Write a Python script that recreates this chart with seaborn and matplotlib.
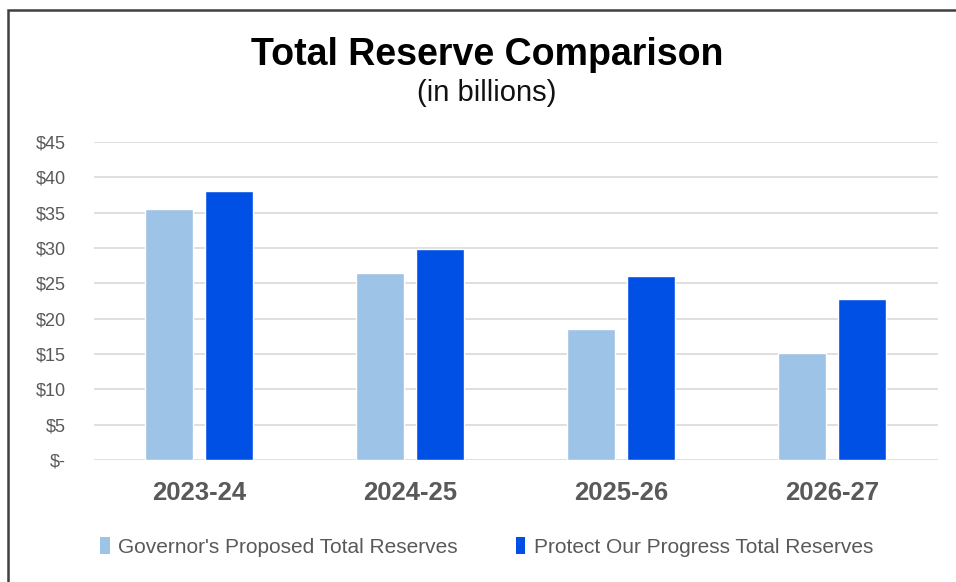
import matplotlib
matplotlib.use("Agg")
import matplotlib.pyplot as plt
import seaborn as sns
import pandas as pd
from matplotlib.patches import Patch, Rectangle
from matplotlib.ticker import FuncFormatter

years = ["2023-24", "2024-25", "2025-26", "2026-27"]
governor = [35.5, 26.4, 18.5, 15.1]
protect = [38.0, 29.8, 26.1, 22.8]
series_names = ["Governor's Proposed Total Reserves", "Protect Our Progress Total Reserves"]
colors = ["#9DC3E6", "#0050E6"]
yticks = [0, 5, 10, 15, 20, 25, 30, 35, 40, 45]

df = pd.DataFrame({
    "year": years * 2,
    "value": governor + protect,
    "series": [series_names[0]] * len(years) + [series_names[1]] * len(years),
})

sns.set_theme(style="white")
plt.rcParams["font.family"] = ["Liberation Sans", "DejaVu Sans"]

fig = plt.figure(figsize=(9.56, 5.82), dpi=100)
ax = fig.add_axes([93.5 / 956, 1 - 460 / 582, (937.5 - 93.5) / 956, (460 - 142) / 582])

sns.barplot(data=df, x="year", y="value", hue="series", palette=colors,
            width=0.57, gap=0.2, ax=ax, legend=False, saturation=1)

ax.set_ylim(0, 45)
ax.set_yticks(yticks)
ax.yaxis.set_major_formatter(FuncFormatter(lambda v, p: "$-" if v == 0 else f"${int(v)}"))
ax.grid(axis="y", color="#D9D9D9", linewidth=1.2)
ax.set_axisbelow(True)
for s in ax.spines.values():
    s.set_visible(False)
ax.set_xlabel("")
ax.set_ylabel("")
ax.tick_params(axis="y", length=0, pad=20, labelsize=13, labelcolor="#595959")
ax.tick_params(axis="x", length=0, pad=15, labelsize=18.5, labelcolor="#595959")
for lab in ax.get_yticklabels():
    lab.set_horizontalalignment("right")
for lab in ax.get_xticklabels():
    lab.set_fontweight("bold")

fig.text(0.51, 1 - 65 / 582, "Total Reserve Comparison", ha="center", va="baseline",
         fontsize=27, fontweight="bold", color="black")
fig.text(0.509, 1 - 101 / 582, "(in billions)", ha="center", va="baseline",
         fontsize=21, color="#111111")

handles = [Patch(facecolor=c, edgecolor="none") for c in colors]
fig.legend(handles, series_names, loc="center", bbox_to_anchor=(0.509, 1 - 547 / 582),
           ncol=2, frameon=False, fontsize=15, handlelength=0.45, handleheight=0.9,
           handletextpad=0.4, columnspacing=2.8, labelcolor="#595959")

fig.patches.append(Rectangle((7.5 / 956, -0.1), 1.1, 1.1 - 10 / 582, transform=fig.transFigure,
                             fill=False, edgecolor="#404040", linewidth=1.8))

fig.savefig("out.png", dpi=100)
